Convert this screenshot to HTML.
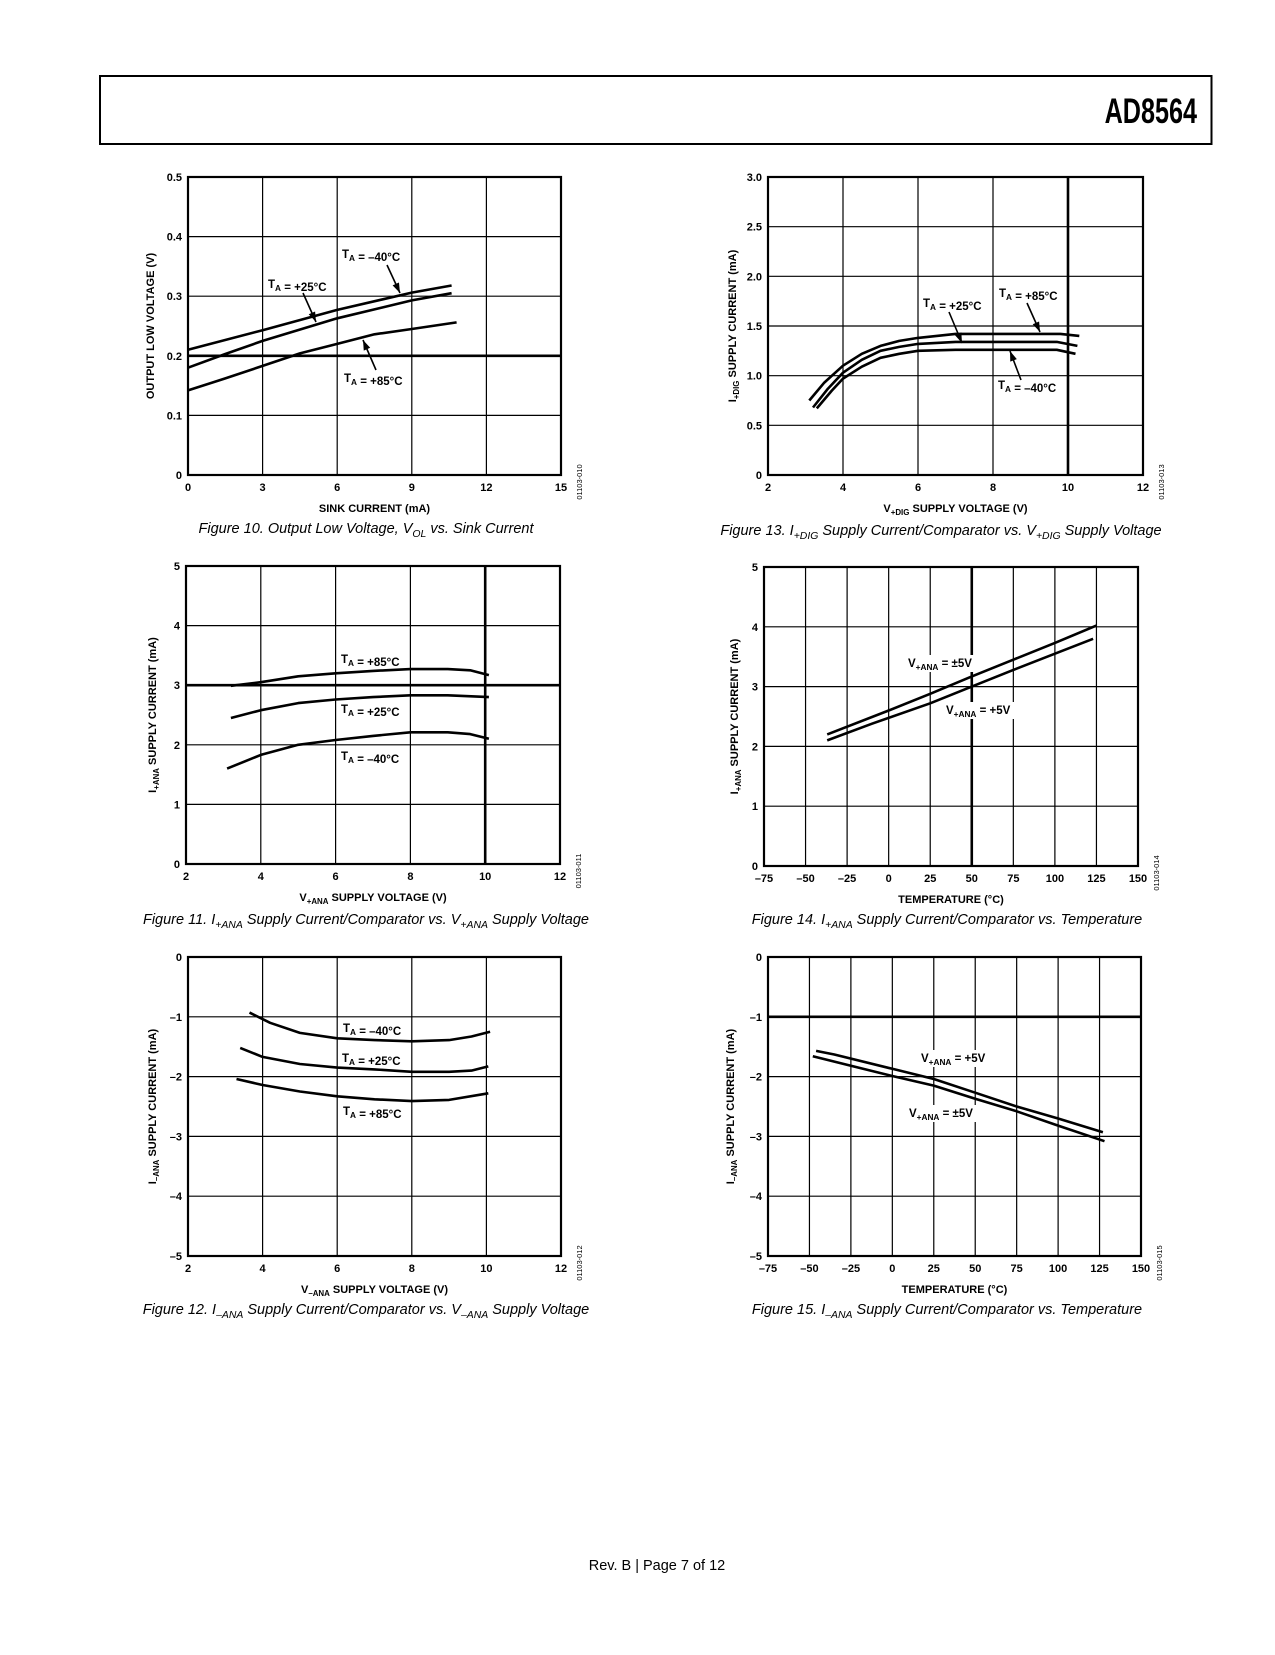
<!DOCTYPE html>
<html><head><meta charset="utf-8">
<style>
html,body{margin:0;padding:0;background:#fff;}
body{width:1275px;height:1650px;position:relative;overflow:hidden;font-family:"Liberation Sans",sans-serif;}
svg text{font-family:"Liberation Sans",sans-serif;}
</style></head>
<body>
<svg id="page" width="1275" height="1650" viewBox="0 0 1275 1650" xmlns="http://www.w3.org/2000/svg">
<rect x="100" y="76" width="1111.5" height="68" fill="none" stroke="#000" stroke-width="2"/>
<text x="1197" y="123" text-anchor="end" font-size="35" font-weight="bold" transform="translate(1197 0) scale(0.72 1) translate(-1197 0)">AD8564</text>
<text x="657" y="1570" text-anchor="middle" font-size="14.5">Rev. B | Page 7 of 12</text>
</svg>
<script>
// ---- Figure 10 data ----
const f10Series40x=[0,3,6,9,10.6];
const f10Series40y=[0.21,0.243,0.277,0.306,0.318];
const f10Series25x=[0,1.5,3,6,9,10.6];
const f10Series25y=[0.18,0.203,0.225,0.263,0.293,0.305];
const f10Series85x=[0,1.5,3,4.5,6,7.5,9,10.8];
const f10Series85y=[0.142,0.162,0.183,0.204,0.22,0.236,0.245,0.256];
const f10XTicks=[0,3,6,9,12,15];
const f10YTicks=[0,0.1,0.2,0.3,0.4,0.5];
const f10YTickLabels=["0","0.1","0.2","0.3","0.4","0.5"];
// ---- Figure 13 data ----
const f13Series85x=[3.1,3.5,4,4.5,5,5.5,6,7,9.8,10.3];
const f13Series85y=[0.75,0.93,1.1,1.22,1.3,1.35,1.38,1.42,1.42,1.4];
const f13Series25x=[3.2,3.6,4,4.5,5,5.5,6,7,9.7,10.25];
const f13Series25y=[0.68,0.87,1.03,1.16,1.25,1.29,1.32,1.34,1.34,1.3];
const f13Series40x=[3.3,3.7,4,4.5,5,5.5,6,7,9.7,10.2];
const f13Series40y=[0.67,0.85,0.97,1.09,1.18,1.22,1.25,1.26,1.26,1.22];
const f13XTicks=[2,4,6,8,10,12];
const f13YTicks=[0,0.5,1,1.5,2,2.5,3];
const f13YTickLabels=["0","0.5","1.0","1.5","2.0","2.5","3.0"];
// ---- Figure 11 data ----
const f11Series85x=[3.2,4,5,6,7,8,9,9.6,10.1];
const f11Series85y=[2.99,3.05,3.15,3.2,3.24,3.27,3.27,3.25,3.17];
const f11Series25x=[3.2,4,5,6,7,8,9,10.1];
const f11Series25y=[2.45,2.58,2.7,2.76,2.8,2.83,2.83,2.8];
const f11Series40x=[3.1,4,5,6,7,8,9,9.6,10.1];
const f11Series40y=[1.6,1.83,2.0,2.08,2.15,2.21,2.21,2.18,2.1];
const f11XTicks=[2,4,6,8,10,12];
const f11YTicks=[0,1,2,3,4,5];
// ---- Figure 14 data ----
const f14SeriesDualx=[-37,0,25,50,75,100,125];
const f14SeriesDualy=[2.2,2.6,2.88,3.17,3.45,3.73,4.02];
const f14SeriesSinglex=[-37,-10,25,50,75,100,123];
const f14SeriesSingley=[2.1,2.38,2.72,3.0,3.28,3.55,3.8];
const f14XTicks=[-75,-50,-25,0,25,50,75,100,125,150];
const f14YTicks=[0,1,2,3,4,5];
// ---- Figure 12 data ----
const f12Series40x=[3.65,4.2,5,6,7,8,9,9.6,10.1];
const f12Series40y=[-0.93,-1.1,-1.27,-1.36,-1.39,-1.41,-1.39,-1.33,-1.25];
const f12Series25x=[3.4,4,5,6,7,8,9,9.6,10.05];
const f12Series25y=[-1.52,-1.67,-1.79,-1.85,-1.88,-1.92,-1.92,-1.9,-1.83];
const f12Series85x=[3.3,4,5,6,7,8,9,10.05];
const f12Series85y=[-2.04,-2.14,-2.25,-2.33,-2.38,-2.41,-2.39,-2.28];
const f12XTicks=[2,4,6,8,10,12];
const f12YTicks=[-5,-4,-3,-2,-1,0];
// ---- Figure 15 data ----
const f15SeriesSinglex=[-46,-35,0,25,50,75,100,127];
const f15SeriesSingley=[-1.57,-1.63,-1.87,-2.04,-2.27,-2.5,-2.7,-2.93];
const f15SeriesDualx=[-48,-25,0,25,50,75,100,128];
const f15SeriesDualy=[-1.66,-1.82,-1.99,-2.15,-2.37,-2.58,-2.82,-3.08];
const f15XTicks=[-75,-50,-25,0,25,50,75,100,125,150];
const f15YTicks=[-5,-4,-3,-2,-1,0];

const NS="http://www.w3.org/2000/svg";
const page=document.getElementById('page');
function el(tag,attrs,parent){const e=document.createElementNS(NS,tag);for(const k in attrs)e.setAttribute(k,attrs[k]);(parent||page).appendChild(e);return e;}
function fmtMinus(v){return String(v).replace('-','\u2013');}
// rich text: parts [text, sub?]
function rich(parent,x,y,parts,size,anchor,weight,style){
  const t=el('text',{x:x,y:y,'font-size':size,'text-anchor':anchor||'start','font-weight':weight||'bold','font-style':style||'normal'},parent);
  parts.forEach(p=>{const s=document.createElementNS(NS,'tspan');s.textContent=p[0];
    if(p[1]){s.setAttribute('font-size',size*0.72);s.setAttribute('dy',size*0.28);}
    else if(p[2]){s.setAttribute('dy',-size*0.28);}
    t.appendChild(s);});
  return t;
}
function buildChart(cfg){
  const g=el('g',{});
  
  
  const {L,R,T,B,xmin,xmax,ymin,ymax}=cfg;
  const sx=v=>L+(v-xmin)/(xmax-xmin)*(R-L);
  const sy=v=>B-(v-ymin)/(ymax-ymin)*(B-T);
  cfg.xTicks.forEach((v,i)=>{
    if(v!==xmin&&v!==xmax){const ln=el('line',{x1:sx(v),x2:sx(v),y1:T,y2:B,stroke:'#000','stroke-width':(cfg.thickX===v)?2.6:1.2},g);
      
      }
    const t=el('text',{x:sx(v),y:B+16,'font-size':11,'font-weight':'bold','text-anchor':'middle'},g);
    t.textContent=fmtMinus(v);
    
    
  });
  cfg.yTicks.forEach((v,i)=>{
    if(v!==ymin&&v!==ymax){const ln=el('line',{x1:L,x2:R,y1:sy(v),y2:sy(v),stroke:'#000','stroke-width':(cfg.thickY===v)?2.6:1.2},g);
      
      }
    const t=el('text',{x:L-6,y:sy(v)+4,'font-size':11,'font-weight':'bold','text-anchor':'end'},g);
    t.textContent=cfg.yLabels?cfg.yLabels[i]:fmtMinus(v);
    
    
  });
  // label backgrounds
  (cfg.labels||[]).forEach(lb=>{
    if(lb.bg){const r=el('rect',{x:lb.x-3,y:lb.y-12,width:lb.w,height:17,fill:'#fff'},g);
      
      }
  });
  const fr=el('rect',{x:L,y:T,width:R-L,height:B-T,fill:'none',stroke:'#000','stroke-width':2.2},g);
  
  
  cfg.series.forEach(s=>{
    const d=s.x.map((v,i)=>(i?'L':'M')+sx(v).toFixed(1)+' '+sy(s.y[i]).toFixed(1)).join(' ');
    const p=el('path',{d:d,fill:'none',stroke:'#000','stroke-width':2.6,'stroke-linejoin':'round'},g);
    
    
  });
  (cfg.labels||[]).forEach(lb=>{
    const t=rich(g,lb.x,lb.y,lb.parts,11.5,'start','bold');
    
    
  });
  (cfg.arrows||[]).forEach(a=>{
    const [x1,y1,x2,y2]=a;
    const ln=el('line',{x1:x1,y1:y1,x2:x2,y2:y2,stroke:'#000','stroke-width':1.6},g);
    
    
    const ang=Math.atan2(y2-y1,x2-x1),l=10,w=3.5;
    const bx=x2-l*Math.cos(ang),by=y2-l*Math.sin(ang);
    const pts=[[x2,y2],[bx+w*Math.sin(ang),by-w*Math.cos(ang)],[bx-w*Math.sin(ang),by+w*Math.cos(ang)]].map(p=>p.join(',')).join(' ');
    const hd=el('polygon',{points:pts,fill:'#000'},g);
    
    
  });
  const xt=rich(g,(L+R)/2,B+37,cfg.xTitle,11,'middle','bold');
  
  
  const ytx=cfg.yTitleX, yty=(T+B)/2;
  const yt=rich(g,ytx,yty,cfg.yTitle,11,'middle','bold');
  yt.setAttribute('transform','rotate(-90 '+ytx+' '+yty+')');
  
  
  const cx=R+21,cy=B+7;
  const code=el('text',{x:cx,y:cy,'font-size':7.5,'text-anchor':'middle',transform:'rotate(-90 '+cx+' '+cy+')'},g);
  code.textContent=cfg.code;
  
  
  const cap=rich(g,cfg.capX,cfg.capY,cfg.caption,14.5,'middle','normal','italic');
  
  
}
const TA=(s)=>[["T"],["A",1],[" = "+s]];
buildChart({name:'figure-10-chart',L:188,R:561,T:177,B:475,xmin:0,xmax:15,ymin:0,ymax:0.5,xTicks:f10XTicks,yTicks:f10YTicks,yLabels:f10YTickLabels,thickY:0.2,
  series:[{name:'series-minus40c',x:f10Series40x,y:f10Series40y},{name:'series-plus25c',x:f10Series25x,y:f10Series25y},{name:'series-plus85c',x:f10Series85x,y:f10Series85y}],
  labels:[{x:342,y:258,parts:TA("\u201340\u00b0C")},{x:268,y:288,parts:TA("+25\u00b0C")},{x:344,y:382,parts:TA("+85\u00b0C")}],
  arrows:[[387,265,400,293],[303,293,316,322],[376,370,363,340]],
  xTitle:[["SINK CURRENT (mA)"]],yTitle:[["OUTPUT LOW VOLTAGE (V)"]],yTitleX:154,code:'01103-010',
  caption:[["Figure 10. Output Low Voltage, V"],["OL",1],[" vs. Sink Current",0,1]],capX:366,capY:533});
buildChart({name:'figure-13-chart',L:768,R:1143,T:177,B:475,xmin:2,xmax:12,ymin:0,ymax:3,xTicks:f13XTicks,yTicks:f13YTicks,yLabels:f13YTickLabels,thickX:10,
  series:[{name:'series-plus85c',x:f13Series85x,y:f13Series85y},{name:'series-plus25c',x:f13Series25x,y:f13Series25y},{name:'series-minus40c',x:f13Series40x,y:f13Series40y}],
  labels:[{x:923,y:307,parts:TA("+25\u00b0C")},{x:999,y:297,parts:TA("+85\u00b0C")},{x:998,y:389,parts:TA("\u201340\u00b0C")}],
  arrows:[[949,312,962,343],[1027,303,1040,332],[1021,380,1010,351]],
  xTitle:[["V"],["+DIG",1],[" SUPPLY VOLTAGE (V)",0,1]],yTitle:[["I"],["+DIG",1],[" SUPPLY CURRENT (mA)",0,1]],yTitleX:736,code:'01103-013',
  caption:[["Figure 13. I"],["+DIG",1],[" Supply Current/Comparator vs. V",0,1],["+DIG",1],[" Supply Voltage",0,1]],capX:941,capY:535});
buildChart({name:'figure-11-chart',L:186,R:560,T:566,B:864,xmin:2,xmax:12,ymin:0,ymax:5,xTicks:f11XTicks,yTicks:f11YTicks,thickX:10,thickY:3,
  series:[{name:'series-plus85c',x:f11Series85x,y:f11Series85y},{name:'series-plus25c',x:f11Series25x,y:f11Series25y},{name:'series-minus40c',x:f11Series40x,y:f11Series40y}],
  labels:[{x:341,y:663,parts:TA("+85\u00b0C")},{x:341,y:713,parts:TA("+25\u00b0C")},{x:341,y:760,parts:TA("\u201340\u00b0C")}],
  xTitle:[["V"],["+ANA",1],[" SUPPLY VOLTAGE (V)",0,1]],yTitle:[["I"],["+ANA",1],[" SUPPLY CURRENT (mA)",0,1]],yTitleX:156,code:'01103-011',
  caption:[["Figure 11. I"],["+ANA",1],[" Supply Current/Comparator vs. V",0,1],["+ANA",1],[" Supply Voltage",0,1]],capX:366,capY:924});
buildChart({name:'figure-14-chart',L:764,R:1138,T:567,B:866,xmin:-75,xmax:150,ymin:0,ymax:5,xTicks:f14XTicks,yTicks:f14YTicks,thickX:50,
  series:[{name:'series-dual-5v',x:f14SeriesDualx,y:f14SeriesDualy},{name:'series-single-5v',x:f14SeriesSinglex,y:f14SeriesSingley}],
  labels:[{x:908,y:667,bg:1,w:80,parts:[["V"],["+ANA",1],[" = \u00b15V",0,1]]},{x:946,y:714,bg:1,w:80,parts:[["V"],["+ANA",1],[" = +5V",0,1]]}],
  xTitle:[["TEMPERATURE (\u00b0C)"]],yTitle:[["I"],["+ANA",1],[" SUPPLY CURRENT (mA)",0,1]],yTitleX:738,code:'01103-014',
  caption:[["Figure 14. I"],["+ANA",1],[" Supply Current/Comparator vs. Temperature",0,1]],capX:947,capY:924});
buildChart({name:'figure-12-chart',L:188,R:561,T:957,B:1256,xmin:2,xmax:12,ymin:-5,ymax:0,xTicks:f12XTicks,yTicks:f12YTicks,
  series:[{name:'series-minus40c',x:f12Series40x,y:f12Series40y},{name:'series-plus25c',x:f12Series25x,y:f12Series25y},{name:'series-plus85c',x:f12Series85x,y:f12Series85y}],
  labels:[{x:343,y:1032,parts:TA("\u201340\u00b0C")},{x:342,y:1062,parts:TA("+25\u00b0C")},{x:343,y:1115,parts:TA("+85\u00b0C")}],
  xTitle:[["V"],["\u2013ANA",1],[" SUPPLY VOLTAGE (V)",0,1]],yTitle:[["I"],["\u2013ANA",1],[" SUPPLY CURRENT (mA)",0,1]],yTitleX:156,code:'01103-012',
  caption:[["Figure 12. I"],["\u2013ANA",1],[" Supply Current/Comparator vs. V",0,1],["\u2013ANA",1],[" Supply Voltage",0,1]],capX:366,capY:1314});
buildChart({name:'figure-15-chart',L:768,R:1141,T:957,B:1256,xmin:-75,xmax:150,ymin:-5,ymax:0,xTicks:f15XTicks,yTicks:f15YTicks,thickY:-1,
  series:[{name:'series-single-5v',x:f15SeriesSinglex,y:f15SeriesSingley},{name:'series-dual-5v',x:f15SeriesDualx,y:f15SeriesDualy}],
  labels:[{x:921,y:1062,bg:1,w:80,parts:[["V"],["+ANA",1],[" = +5V",0,1]]},{x:909,y:1117,bg:1,w:80,parts:[["V"],["+ANA",1],[" = \u00b15V",0,1]]}],
  xTitle:[["TEMPERATURE (\u00b0C)"]],yTitle:[["I"],["\u2013ANA",1],[" SUPPLY CURRENT (mA)",0,1]],yTitleX:734,code:'01103-015',
  caption:[["Figure 15. I"],["\u2013ANA",1],[" Supply Current/Comparator vs. Temperature",0,1]],capX:947,capY:1314});
</script>
</body></html>
